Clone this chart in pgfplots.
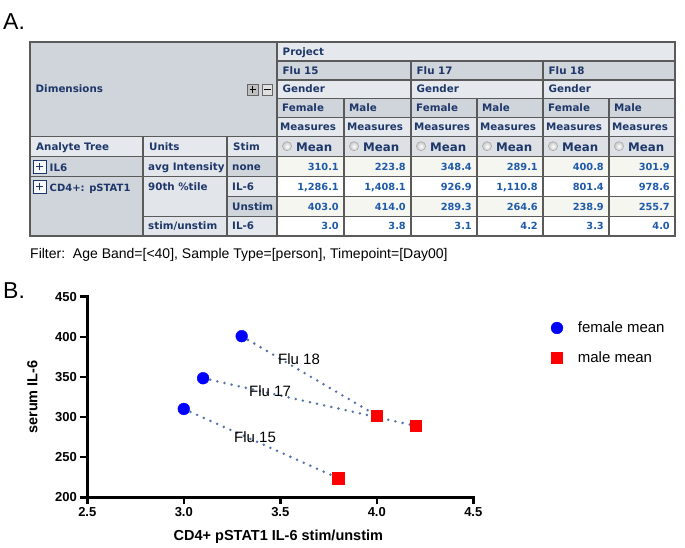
\documentclass[border=0pt]{standalone}
\usepackage{fontspec}
\setmainfont{Liberation Sans}
\newfontfamily\tblfont{DejaVu Sans}
\usepackage{pgfplots}
\pgfplotsset{compat=1.18}

\definecolor{hdrtxt}{RGB}{30,55,105}
\definecolor{numtxt}{RGB}{30,90,170}
\definecolor{cdark}{RGB}{208,213,219}
\definecolor{clight}{RGB}{229,233,238}
\definecolor{cmean}{RGB}{221,225,230}
\definecolor{cunit}{RGB}{226,229,234}
\definecolor{ccream}{RGB}{246,246,241}
\definecolor{gridc}{RGB}{90,90,90}
\definecolor{dotc}{RGB}{85,115,170}

% table grid (px, y downwards)
\def\cA{30}\def\cB{143}\def\cC{227}\def\cD{277}\def\cE{344}
\def\cF{411}\def\cG{477}\def\cH{543}\def\cI{609}\def\cJ{675}
\def\rA{41.7}\def\rB{61}\def\rC{80}\def\rD{98.5}\def\rE{117.5}\def\rF{136.7}
\def\rG{156.7}\def\rH{176.7}\def\rI{196.7}\def\rJ{216.7}\def\rK{235.7}

\tikzset{
  hd/.style={anchor=west,inner sep=0pt,text=hdrtxt,
    font=\tblfont\bfseries\fontsize{10.3}{12}\selectfont,text height=7.5pt,text depth=0pt},
  nm/.style={anchor=east,inner sep=0pt,text=numtxt,
    font=\tblfont\bfseries\fontsize{9.8}{11}\selectfont,text height=7.1pt,text depth=0pt}
}
\newcommand{\rowvals}[7]{%
  \node[nm] at (\cE-5,#1) {#2};\node[nm] at (\cF-5,#1) {#3};
  \node[nm] at (\cG-5,#1) {#4};\node[nm] at (\cH-5,#1) {#5};
  \node[nm] at (\cI-5,#1) {#6};\node[nm] at (\cJ-5,#1) {#7};}

\begin{document}
\begin{tikzpicture}
\path[use as bounding box] (0pt,0pt) rectangle (685pt,-548pt);

\begin{scope}[x=1pt,y=-1pt]
\node[anchor=base west,inner sep=0pt,font=\fontsize{23}{25}\selectfont] at (3,30) {A.};
\node[anchor=base west,inner sep=0pt,font=\fontsize{23}{25}\selectfont] at (3,298) {B.};

% cell backgrounds
\fill[cdark] (\cA,\rA) rectangle (\cD,\rF);
\fill[clight] (\cD,\rA) rectangle (\cJ,\rB);
\fill[cdark] (\cD,\rB) rectangle (\cJ,\rC);
\fill[clight] (\cD,\rC) rectangle (\cJ,\rD);
\fill[cdark] (\cD,\rD) rectangle (\cJ,\rE);
\fill[clight] (\cD,\rE) rectangle (\cJ,\rF);
\fill[cmean] (\cD,\rF) rectangle (\cJ,\rG);
\fill[clight] (\cA,\rF) rectangle (\cD,\rG);
\fill[cdark] (\cA,\rG) rectangle (\cB,\rK);
\fill[cunit] (\cB,\rG) rectangle (\cC,\rK);
\fill[cdark] (\cC,\rG) rectangle (\cD,\rH);
\fill[clight] (\cC,\rH) rectangle (\cD,\rI);
\fill[cdark] (\cC,\rI) rectangle (\cD,\rJ);
\fill[clight] (\cC,\rJ) rectangle (\cD,\rK);
\fill[ccream] (\cD,\rG) rectangle (\cJ,\rH);
\fill[white] (\cD,\rH) rectangle (\cJ,\rI);
\fill[ccream] (\cD,\rI) rectangle (\cJ,\rJ);

% grid lines
\begin{scope}[color=gridc,line width=1.2pt]
\foreach \r in {\rB,\rC,\rD,\rE} \draw (\cD,\r) -- (\cJ,\r);
\foreach \r in {\rF,\rG,\rH} \draw (\cA,\r) -- (\cJ,\r);
\draw (\cC,\rI) -- (\cJ,\rI);
\draw (\cB,\rJ) -- (\cJ,\rJ);
\draw (\cD,\rA) -- (\cD,\rK);
\foreach \c in {\cB,\cC} \draw (\c,\rF) -- (\c,\rK);
\foreach \c in {\cE,\cG,\cI} \draw (\c,\rD) -- (\c,\rK);
\foreach \c in {\cF,\cH} \draw (\c,\rB) -- (\c,\rK);
\draw[line width=1.7pt] (\cA,\rA) rectangle (\cJ,\rK);
\end{scope}

% header texts
\node[hd] at (35.5,89) {Dimensions};
\draw[black!60,fill=black!25,line width=0.6pt] (247.5,84) rectangle (258,95);
\draw[black,line width=1.3pt] (249.5,89.5) -- (256,89.5) (252.75,86.2) -- (252.75,92.8);
\draw[black!60,fill=black!12,line width=0.6pt] (262,84) rectangle (272.5,95);
\draw[black,line width=1.3pt] (264,89.5) -- (270.5,89.5);
\node[hd] at (\cD+5.5,51.3) {Project};
\foreach \c/\t in {\cD/Flu 15,\cF/Flu 17,\cH/Flu 18} {
  \node[hd] at (\c+5.5,70.5) {\t};
  \node[hd] at (\c+5.5,89.2) {Gender};}
\foreach \c/\t in {\cD/Female,\cE/Male,\cF/Female,\cG/Male,\cH/Female,\cI/Male} {
  \node[hd] at (\c+5,108) {\t};
  \node[hd] at (\c+3,127.1) {Measures};
  \shadedraw[inner color=white,outer color=gray!45,draw=gray!70,line width=0.5pt] (\c+10,146.2) circle (4.6pt);
  \node[hd,font=\tblfont\bfseries\fontsize{11.8}{13}\selectfont,text height=8.5pt] at (\c+19,147) {Mean};}

\node[hd] at (\cA+6,146.7) {Analyte Tree};
\node[hd] at (\cB+6,146.7) {Units};
\node[hd] at (\cC+6,146.7) {Stim};

\foreach \y in {166.5,186.5} {
  \draw[hdrtxt,fill=white!80!cdark,line width=0.9pt] (33,\y-6.5) rectangle (46,\y+6.5);
  \draw[hdrtxt,line width=1.7pt] (36,\y) -- (43,\y) (39.5,\y-3.5) -- (39.5,\y+3.5);}
\node[hd] at (49.5,167.5) {IL6};
\node[hd,font=\tblfont\bfseries\fontsize{10}{12}\selectfont] at (49.5,187.5) {CD4+: pSTAT1};
\node[hd] at (\cB+5,166.7) {avg Intensity};
\node[hd] at (\cB+5,186.7) {90th \%tile};
\node[hd] at (\cB+5,226.2) {stim/unstim};
\node[hd] at (\cC+5,166.7) {none};
\node[hd] at (\cC+5,186.7) {IL-6};
\node[hd] at (\cC+5,206.7) {Unstim};
\node[hd] at (\cC+5,226.2) {IL-6};

\rowvals{166.7}{310.1}{223.8}{348.4}{289.1}{400.8}{301.9}
\rowvals{186.7}{1,286.1}{1,408.1}{926.9}{1,110.8}{801.4}{978.6}
\rowvals{206.7}{403.0}{414.0}{289.3}{264.6}{238.9}{255.7}
\rowvals{226.2}{3.0}{3.8}{3.1}{4.2}{3.3}{4.0}

\node[anchor=base west,inner sep=0pt,font=\fontsize{14}{16}\selectfont] at (30,258)
  {Filter:\ \ Age Band=[<40], Sample Type=[person], Timepoint=[Day00]};
\end{scope}

\begin{axis}[
  at={(87.3pt,-497.3pt)}, anchor=south west,
  scale only axis, width=386pt, height=200.6pt,
  xmin=2.5, xmax=4.5, ymin=200, ymax=450,
  xtick={2.5,3,3.5,4,4.5}, ytick={200,250,300,350,400,450},
  axis lines=left,
  axis line style={-,black,line width=2.9pt,line cap=rect},
  tick align=outside, major tick length=7pt,
  tick style={black,line width=2.6pt},
  /pgf/number format/assume math mode=true,
  ticklabel style={font=\bfseries\fontsize{13}{15}\selectfont},
  xticklabel style={/pgf/number format/fixed,/pgf/number format/fixed zerofill,
    /pgf/number format/precision=1},
  xlabel={CD4+ pSTAT1 IL-6 stim/unstim},
  ylabel={serum IL-6},
  label style={font=\bfseries\fontsize{14.5}{16}\selectfont},
  xlabel style={at={(axis description cs:0.495,-0.199)},anchor=center},
  ylabel style={at={(axis description cs:-0.1425,0.5)},anchor=center},
  clip=false,
  legend style={at={(axis description cs:1.201,0.886)},anchor=north west,
    draw=none,fill=none,inner sep=0pt,font=\fontsize{15}{17}\selectfont,
    row sep=13pt,nodes={inner sep=2pt},
    /tikz/every odd column/.style={column sep=13pt}},
  legend cell align=left,
  legend image code/.code={\draw[#1] plot coordinates {(0pt,0pt)};},
]
\addplot[dotc,line width=2.8pt,dash pattern=on 0pt off 7.3pt,line cap=round,forget plot]
  coordinates {(3.0,310.1) (3.8,223.8)};
\addplot[dotc,line width=2.8pt,dash pattern=on 0pt off 7.3pt,line cap=round,forget plot]
  coordinates {(3.1,348.4) (4.2,289.1)};
\addplot[dotc,line width=2.8pt,dash pattern=on 0pt off 7.3pt,line cap=round,forget plot]
  coordinates {(3.3,400.8) (4.0,301.9)};
\addplot[only marks,mark=*,mark size=5.9pt,color=blue,mark options={draw=blue,fill=blue}]
  coordinates {(3.0,310.1) (3.1,348.4) (3.3,400.8)};
\addlegendentry{female mean}
\addplot[only marks,mark=square*,mark size=5.6pt,color=red,mark options={draw=red,fill=red}]
  coordinates {(3.8,223.8) (4.2,289.1) (4.0,301.9)};
\addlegendentry{male mean}

\node[font=\fontsize{15}{17}\selectfont,inner sep=0pt] at (axis cs:3.597,372.4) {Flu 18};
\node[font=\fontsize{15}{17}\selectfont,inner sep=0pt] at (axis cs:3.447,332.5) {Flu 17};
\node[font=\fontsize{15}{17}\selectfont,inner sep=0pt] at (axis cs:3.369,275.2) {Flu 15};
\end{axis}
\end{tikzpicture}
\end{document}
